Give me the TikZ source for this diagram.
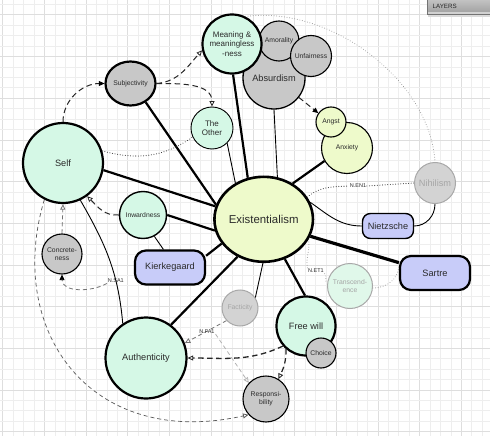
\documentclass[tikz,border=0pt]{standalone}
\usepackage{fontspec}
\setmainfont{Liberation Sans}
\usetikzlibrary{arrows.meta,shapes.geometric}
\definecolor{mint}{HTML}{D5F8E6}
\definecolor{ylw}{HTML}{EEFACB}
\definecolor{gry}{HTML}{C8C8C8}
\definecolor{lav}{HTML}{C8CCF9}
\definecolor{fgry}{HTML}{D3D3D3}
\definecolor{fmint}{HTML}{E0F8EA}
\definecolor{fline}{HTML}{A8A8A8}
\definecolor{ftxt}{HTML}{A5A5A5}
\definecolor{txt}{HTML}{2A2A2A}
\definecolor{gmin}{HTML}{EEEEEE}
\definecolor{gmaj}{HTML}{DEDEDE}
\newcommand\myfE{\fontsize{11.4}{13}\selectfont}
\newcommand\myfB{\fontsize{9.2}{11}\selectfont}
\newcommand\myfM{\fontsize{8}{9.4}\selectfont}
\newcommand\myfS{\fontsize{6.8}{8.3}\selectfont}
\newcommand\myfL{\fontsize{5.5}{6}\selectfont}
\pgfdeclarelayer{bg}
\pgfsetlayers{bg,main}
\begin{document}
\begin{tikzpicture}[x=1pt,y=-1pt,
  cn/.style={circle,draw=black,inner sep=0pt,align=center,text=txt},
  rr/.style={minimum size={2*#1pt}},
  rbox/.style={rectangle,rounded corners=11pt,draw=black,fill=lav,inner sep=0pt,text=txt,font=\myfB},
  lbl/.style={font=\myfL,text=txt,inner sep=0.6pt},
  thk/.style={line width=2.2pt},
  thn/.style={line width=0.9pt},
  opentip/.style={-{Triangle[open,length=5.5pt,width=5pt,line width=0.8pt]}},
  filltip/.style={-{Triangle[length=5.5pt,width=5pt,color=black]}},
  dsh/.style={dash pattern=on 5.5pt off 3.5pt,line width=1pt,draw=black!85},
  dshg/.style={dash pattern=on 4pt off 3pt,line width=0.8pt,draw=black!55},
  dshl/.style={dash pattern=on 4pt off 3pt,line width=0.7pt,draw=black!65},
  dotk/.style={dash pattern=on 0.01pt off 2.6pt,line cap=round,line width=1.1pt,draw=black!75},
  dotg/.style={dash pattern=on 0.01pt off 2.6pt,line cap=round,line width=1pt,draw=black!40},
  gridmin/.style={draw=gmin,line width=0.6pt},
  gridmaj/.style={draw=gmaj,line width=0.7pt}
]
\useasboundingbox (0,0) rectangle (490,436);

% ---------- nodes ----------
\node[cn,fill=gry,line width=1.3pt,rr=31,font=\myfB] (Abs) at (274,78) {Absurdism};
\node[cn,fill=gry,line width=1.1pt,rr=20,font=\myfS] (Amo) at (279,41) {Amorality};
\node[cn,fill=gry,line width=1.1pt,rr=20.5,font=\myfS] (Unf) at (311,56) {Unfairness};
\node[cn,fill=mint,line width=2.2pt,rr=29.5,font=\myfM] (M) at (232,44) {Meaning \&\\meaningless\\-ness};
\node[ellipse,draw=black,inner sep=0pt,text=txt,fill=gry,line width=2.2pt,minimum width=50pt,minimum height=44pt,font=\myfS] (Subj) at (130.5,83.5) {Subjectivity};
\node[cn,fill=mint,line width=0.9pt,rr=21,font=\myfM] (Oth) at (212,128) {The\\Other};
\node[cn,fill=mint,line width=2.2pt,rr=40,font=\myfB] (Self) at (63,163) {Self};
\node[cn,fill=mint,line width=1.4pt,rr=23.5,font=\myfS] (Inw) at (143,215) {Inwardness};
\node[rbox,line width=2.2pt,minimum width=70pt,minimum height=34pt] (K) at (170,267.5) {Kierkegaard};
\node[cn,fill=gry,line width=1.1pt,rr=20,font=\myfS] (Con) at (62,254) {Concrete-\\ness};
\node[cn,fill=mint,line width=2.2pt,rr=40.5,font=\myfB] (Auth) at (146,358) {Authenticity};
\node[cn,fill=fgry,draw=fline,text=ftxt,line width=1pt,rr=18,font=\myfS] (Fact) at (240,308) {Facticity};
\node[cn,fill=mint,line width=2.2pt,rr=29.5,font=\myfB] (FW) at (306,326) {Free will};
\node[cn,fill=gry,line width=1.1pt,rr=15,font=\myfS] (Cho) at (321,353) {Choice};
\node[cn,fill=gry,line width=1.1pt,rr=23,font=\myfS] (Resp) at (266,399) {Responsi-\\bility};
\node[cn,fill=fmint,draw=fline,text=ftxt,line width=1pt,rr=22.5,font=\myfS] (Tr) at (350,286) {Transcend-\\ence};
\node[rbox,line width=2.2pt,minimum width=70pt,minimum height=34pt] (Sar) at (435,273) {Sartre};
\node[rbox,line width=1.4pt,minimum width=51pt,minimum height=25pt,rounded corners=8pt] (Nie) at (388,226) {Nietzsche};
\node[cn,fill=fgry,draw=fline,text=ftxt,line width=1pt,rr=20.5,font=\myfB] (Nih) at (435,183) {Nihilism};
\node[cn,fill=ylw,line width=1.1pt,rr=25.5,font=\myfS] (Anx) at (347,148) {Anxiety};
\node[cn,fill=ylw,line width=1.1pt,rr=15,font=\myfS] (Ang) at (331,122) {Angst};
\node[ellipse,draw=black,inner sep=0pt,text=txt,fill=ylw,line width=2.6pt,minimum width=91pt,minimum height=85pt,font=\myfE] (E) at (263.7,219.3) {Existentialism};

\node[lbl] (lEN) at (358,186) {N.EN1};
\node[lbl] (lET) at (316,271) {N.ET1};

% ---------- LAYERS panel ----------
\fill[black!14] (428,14) rectangle (490,17.5);
\shade[top color=black!24,bottom color=black!36] (427,0) rectangle (490,12);
\fill[black!18] (427,12) rectangle (490,14);
\draw[black!55,line width=0.7pt] (427,0) -- (427,14) -- (490,14);
\node[font=\fontsize{6.2}{7}\selectfont,text=black!85,anchor=west,inner sep=0pt] (layers) at (432.5,6.3) {LAYERS};

% ---------- background + connectors ----------
\begin{pgfonlayer}{bg}
\fill[white] (0,0) rectangle (490,436);
\foreach \k in {0,...,47} {
  \pgfmathsetmacro\xx{2.8+\k*10.42}
  \pgfmathtruncatemacro\mm{mod(\k,4)}
  \ifnum\mm=0 \draw[gridmaj] (\xx,0) -- (\xx,436); \else \draw[gridmin] (\xx,0) -- (\xx,436); \fi
}
\foreach \k in {0,...,41} {
  \pgfmathsetmacro\yy{4.4+\k*10.42}
  \pgfmathtruncatemacro\mm{mod(\k,4)}
  \ifnum\mm=1 \draw[gridmaj] (0,\yy) -- (490,\yy); \else \draw[gridmin] (0,\yy) -- (490,\yy); \fi
}

% solid links to Existentialism
\draw[thk] (Self.-10) -- (E.165);
\draw[thk] (Subj.-51) -- (E.163);
\draw[thn] (Oth.-45) -- (E.128);
\draw[thk] (M.-88) -- (E.111);
\draw[thn] (Abs.-90) -- (E.72);
\draw[thk] (Anx.210) -- (E.51);
\draw[thk] (Inw.0) -- (E.193);
\draw[thk] (K.18) -- (E.210);
\draw[thk] (Auth.53) -- (E.235);
\draw[thn] (Fact.34) -- (E.-91);
\draw[thk] (E.-62) -- (FW.92);
\draw[line width=3.2pt] (E.-20) -- (Sar.164);
\draw[thn] (E.20) to[out=-35,in=180] (Nie.west);
\draw[thn] (Nie.east) to[out=0,in=-90] (Nih.south);
\draw[thn] (Inw.-62) -- (K.110);

% dotted links
\draw[dotk] (E.27) to[out=40,in=183] (lEN.west);
\draw[dotk] (lEN.east) -- (Nih.west);
\draw[dotg] (E.-24) to[out=-82,in=100] (lET.north west);
\draw[dotg] (lET.south east) to[out=-25,in=185] (Tr.170);
\draw[dotg] (Tr.-5) to[out=0,in=-95] (Sar.170);
\draw[dotk] (Self.17) to[out=-15,in=215] (Oth.205);
\draw[dotg] (M.64) .. controls (330,5) and (430,80) .. (Nih.north);

% dashed arrows
\draw[dsh,filltip] (Abs.-38) -- (Ang.145);
\draw[dsh,filltip] (Self.north) to[out=90,in=180] (Subj.west);
\draw[dsh,opentip] (Subj.east) to[out=5,in=228] (M.192);
\draw[dsh,opentip] (Subj.east) to[out=0,in=90] (Oth.north);
\draw[dsh,opentip] (Inw.west) to[out=185,in=-45] (Self.-54);
\draw[dshg,opentip] (Con.north) -- (Self.south);
\draw[thn] (Self.-65) to[out=-60,in=95] node[pos=0.68,lbl] (lSA) {N.SA1} (Auth.124);
\draw[dshg,filltip] (lSA.south west) to[out=-150,in=-90] (Con.south);
\draw[dshl,opentip] (Self.243) .. controls (5,330) and (90,450) .. (Resp.222);
\draw[dshg,opentip] (Fact.223) -- node[pos=0.47,lbl] (lFA) {N.FA1} (Auth.21);
\draw[dshg,draw=black!30,opentip] (lFA.south east) -- (Resp.137);
\draw[dsh,line width=1.3pt,opentip] (FW.221) to[out=205,in=0] (Auth.east);
\draw[dsh,line width=1.2pt,opentip] (FW.229) to[out=-88,in=65] (Resp.58);
\end{pgfonlayer}
\end{tikzpicture}
\end{document}
